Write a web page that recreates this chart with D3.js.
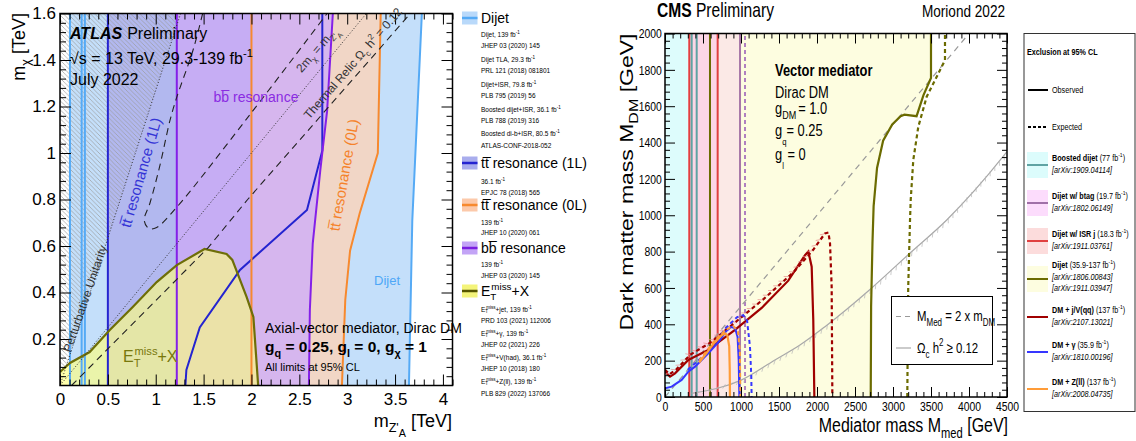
<!DOCTYPE html>
<html>
<head>
<meta charset="utf-8">
<title>Dark matter summary plots</title>
<script src="https://d3js.org/d3.v7.min.js"></script>
<style>
  body { margin: 0; background: #fff; }
  svg { display: block; font-family: 'Liberation Sans', Arial, sans-serif; }
</style>
</head>
<body>
<svg id="chart" width="1136" height="441"></svg>
<script>
// ---------------- ATLAS panel data (TeV) ----------------
var atlasXTicks = [0, 0.5, 1, 1.5, 2, 2.5, 3, 3.5, 4];
var atlasYTicks = [0.2, 0.4, 0.6, 0.8, 1, 1.2, 1.4, 1.6];
var atlasDijetLeft = 0.104;
var atlasDijetLines = [0.104, 0.226, 0.26];
var atlasDijetEdge = [[3.645, 0], [3.68, 0.71], [3.78, 1.6]];
var atlasTt1LLeft = 0.5;
var atlasTt1LEdge = [[1.31, 0], [1.32, 0.067], [1.46, 0.25], [1.88, 0.497], [2.58, 0.755], [2.74, 1.01], [2.74, 1.6]];
var atlasTt0LLeft = 2.0;
var atlasTt0LEdge = [[2.945, 0], [2.98, 0.368], [3.03, 0.58], [3.13, 0.74], [3.32, 1.0], [3.35, 1.6]];
var atlasBbLeft = 1.22;
var atlasBbEdge = [[2.6, 0], [2.61, 0.325], [2.64, 0.61], [2.72, 0.93], [2.79, 1.18], [2.85, 1.6]];
var atlasMetEdge = [[0, 0.058], [0.104, 0.097], [0.31, 0.144], [0.52, 0.239], [0.76, 0.338], [1.01, 0.445],
                    [1.22, 0.518], [1.51, 0.587], [1.74, 0.566], [1.80, 0.54], [1.95, 0.38], [2.02, 0.295], [2.07, 0]];
var atlasRelicLow = [[0.12, 0], [0.21, 0.037], [1.55, 0.594], [1.96, 0.80], [3.66, 1.6]];
var atlasRelicHigh = [[1.49, 1.6], [1.39, 1.443], [1.22, 1.24], [1.15, 1.142], [1.04, 0.94], [0.94, 0.785],
                      [0.88, 0.71], [0.93, 0.675], [1.01, 0.68], [1.22, 0.767], [1.98, 1.163], [2.79, 1.6]];
var atlasUnitarity = [[0, 0], [1.26, 1.6]];
var atlasKinematic = [[0, 0], [3.2, 1.6]];

// ---------------- CMS panel data (GeV) ----------------
var cmsXTicks = [0, 500, 1000, 1500, 2000, 2500, 3000, 3500, 4000, 4500];
var cmsYTicks = [0, 200, 400, 600, 800, 1000, 1200, 1400, 1600, 1800, 2000];
var cmsBoosted = [0, 300];
var cmsIsr = [300, 693];
var cmsBtag = [330, 987];
var cmsDijetLeft = 592;
var cmsVLines = [
  {x: 320, c: "#e04040"}, {x: 351, c: "#5fa3a3"}, {x: 417, c: "#5fa3a3"},
  {x: 592, c: "#6b6b00"}, {x: 693, c: "#e04040"}, {x: 987, c: "#a878a8"},
  {x: 1053, c: "#b080c0", dash: "4,3"}
];
var cmsDijetObs = [[2707, 0], [2712, 500], [2730, 850], [2745, 1050], [2790, 1260], [2870, 1410], [2990, 1500],
                   [3100, 1545], [3150, 1553], [3310, 1545], [3400, 1660], [3500, 1755], [3500, 2000]];
var cmsDijetExp = [[3188, 0], [3200, 600], [3224, 974], [3233, 1084], [3267, 1304], [3333, 1487], [3443, 1652],
                   [3575, 1762], [3684, 1854], [3684, 2000]];
var cmsJvObs = [[0, 139], [66, 112], [132, 130], [307, 204], [570, 259], [921, 369], [1272, 490], [1622, 640],
                [1842, 780], [1886, 800], [1930, 717], [1951, 424], [1965, 0]];
var cmsJvExp = [[0, 150], [60, 125], [150, 152], [330, 232], [600, 300], [921, 410], [1300, 540], [1700, 690],
                [1950, 810], [2105, 900], [2150, 905], [2171, 847], [2193, 607], [2202, 0]];
var cmsGamObs = [[0, 48], [88, 57], [219, 94], [307, 139], [395, 167], [570, 240], [700, 300], [800, 360],
                 [870, 385], [921, 380], [955, 330], [970, 200], [978, 0]];
var cmsGamExp = [[300, 150], [570, 250], [800, 380], [950, 440], [1030, 450], [1080, 420], [1118, 277], [1135, 120], [1140, 0]];
var cmsZllObs = [[450, 190], [560, 250], [650, 300], [746, 340], [789, 350], [820, 340], [845, 280], [852, 150], [855, 0]];
var cmsZllExp = [[450, 200], [650, 310], [800, 370], [900, 390], [960, 360], [985, 250], [992, 0]];
var cmsRelic = [[350, 20], [1009, 94], [1447, 204], [1776, 286], [2105, 387], [2720, 600], [3224, 792],
                [3707, 974], [4447, 1322], [4500, 1350]];
var cmsKinematic = [[0, 0], [4000, 2000]];

var svg = d3.select("#chart");

// text with sub/superscripts: parts = [text, "sub"|"sup"|"sub2"|"", "b"|"i"|"bi", dx]
function label(parent, x, y, parts, o) {
  o = o || {};
  var tr = "translate(" + x + "," + y + ")";
  if (o.rot) tr += " rotate(" + o.rot + ")";
  if (o.sx || o.sy) tr += " scale(" + (o.sx || 1) + "," + (o.sy || 1) + ")";
  var size = o.size || 12;
  var t = parent.append("g").attr("transform", tr).append("text")
    .attr("font-size", size).attr("fill", o.color || "#000")
    .attr("text-anchor", o.anchor || "start");
  if (o.weight) t.attr("font-weight", o.weight);
  if (typeof parts === "string") parts = [[parts]];
  var base = 0;
  parts.forEach(function(p) {
    var v = p[1] || "", st = p[2] || "";
    var off = 0, fs = size;
    if (v === "sub") { off = 0.3 * size; fs = 0.7 * size; }
    if (v === "sub2") { off = 0.55 * size; fs = 0.6 * size; }
    if (v === "sup") { off = -0.45 * size; fs = 0.7 * size; }
    var sp = t.append("tspan").text(p[0]).attr("dy", off - base).attr("font-size", fs);
    if (p[3]) sp.attr("dx", p[3]);
    if (st.indexOf("b") >= 0) sp.attr("font-weight", "bold");
    if (st.indexOf("i") >= 0) sp.attr("font-style", "italic");
    base = off;
  });
  return t;
}

function area(g, pts, x, y, fill, op) {
  g.append("path")
    .attr("d", d3.line().x(function(d) { return x(d[0]); }).y(function(d) { return y(d[1]); })(pts) + "Z")
    .attr("fill", fill).attr("fill-opacity", op == null ? 1 : op);
}
function curve(g, pts, x, y, color, w, dash, c) {
  g.append("path")
    .attr("d", d3.line().curve(c || d3.curveLinear).x(function(d) { return x(d[0]); }).y(function(d) { return y(d[1]); })(pts))
    .attr("fill", "none").attr("stroke", color).attr("stroke-width", w)
    .attr("stroke-dasharray", dash || null);
}
// short hatch strokes along a polyline (excluded side marker)
function hatchAlong(g, pts, x, y, color, step, len, ang) {
  var px = pts.map(function(d) { return [x(d[0]), y(d[1])]; });
  var carry = 0;
  for (var i = 1; i < px.length; i++) {
    var dx = px[i][0] - px[i - 1][0], dy = px[i][1] - px[i - 1][1];
    var L = Math.sqrt(dx * dx + dy * dy); if (L === 0) continue;
    var ux = dx / L, uy = dy / L;
    var ca = Math.cos(ang), sa = Math.sin(ang);
    var hx = ux * ca - uy * sa, hy = ux * sa + uy * ca;
    for (var s = step - carry; s <= L; s += step) {
      var cx = px[i - 1][0] + ux * s, cy = px[i - 1][1] + uy * s;
      g.append("line").attr("x1", cx).attr("y1", cy).attr("x2", cx + hx * len).attr("y2", cy + hy * len)
        .attr("stroke", color).attr("stroke-width", 0.7);
    }
    carry = (carry + L) % step;
  }
}
function minors(lo, hi, step, skip) {
  var out = [];
  for (var v = lo; v <= hi + 1e-9; v += step) {
    var r = Math.round(v / skip);
    if (Math.abs(v - r * skip) > 1e-6) out.push(+v.toFixed(4));
  }
  return out;
}
function axes(g, x, y, o) {
  var x0 = x.range()[0], x1 = x.range()[1], y0 = y.range()[0], y1 = y.range()[1];
  var sets = [[o.xMajor, o.major, true], [o.xMinor, o.minor, false]];
  sets.forEach(function(s) {
    var b = g.append("g").attr("transform", "translate(0," + y0 + ")")
      .call(d3.axisBottom(x).tickValues(s[0]).tickSizeInner(-s[1]).tickSizeOuter(0).tickPadding(o.padX)
        .tickFormat(s[2] ? function(d) { return String(d); } : ""));
    g.append("g").attr("transform", "translate(0," + y1 + ")")
      .call(d3.axisTop(x).tickValues(s[0]).tickSizeInner(-s[1]).tickSizeOuter(0).tickFormat(""));
    b.selectAll("text").attr("font-size", o.font).attr("fill", "#000").attr("font-family", null);
    if (o.sx) b.selectAll("text").attr("transform", "scale(" + o.sx + ",1)");
  });
  var ysets = [[o.yMajor, o.major, true], [o.yMinor, o.minor, false]];
  ysets.forEach(function(s) {
    var l = g.append("g").attr("transform", "translate(" + x0 + ",0)")
      .call(d3.axisLeft(y).tickValues(s[0]).tickSizeInner(-s[1]).tickSizeOuter(0).tickPadding(o.padY)
        .tickFormat(s[2] ? function(d) { return String(d); } : ""));
    g.append("g").attr("transform", "translate(" + x1 + ",0)")
      .call(d3.axisRight(y).tickValues(s[0]).tickSizeInner(-s[1]).tickSizeOuter(0).tickFormat(""));
    l.selectAll("text").attr("font-size", o.font).attr("fill", "#000").attr("font-family", null);
    if (o.sx) l.selectAll("text").attr("transform", "scale(" + o.sx + ",1)");
  });
  g.selectAll(".domain").remove();
  g.selectAll(".tick line").attr("stroke", "#000").attr("stroke-width", 1);
  g.append("rect").attr("x", x0).attr("y", y1).attr("width", x1 - x0).attr("height", y0 - y1)
    .attr("fill", "none").attr("stroke", "#000").attr("stroke-width", 1.5);
}

var defs = svg.append("defs");
var pat = defs.append("pattern").attr("id", "hatch").attr("patternUnits", "userSpaceOnUse")
  .attr("width", 4.5).attr("height", 4.5);
pat.append("path").attr("d", "M-1,3.5 l2,2 M0,0 l4.5,4.5 M3.5,-1 l2,2")
  .attr("stroke", "#9a9a9a").attr("stroke-width", 0.7);

// ================= ATLAS =================
var xA = d3.scaleLinear().domain([0, 4.1]).range([60, 452.5]);
var yA = d3.scaleLinear().domain([0, 1.6]).range([385.5, 13.5]);
defs.append("clipPath").attr("id", "clipA").append("rect")
  .attr("x", 60).attr("y", 13.5).attr("width", 392.5).attr("height", 372);
var gA = svg.append("g");
var pA = gA.append("g").attr("clip-path", "url(#clipA)");

function bandA(left, edge) { return [[left, 0]].concat(edge).concat([[left, 1.6]]); }
area(pA, bandA(atlasDijetLeft, atlasDijetEdge), xA, yA, "#c4dffa");
area(pA, bandA(atlasTt1LLeft, atlasTt1LEdge), xA, yA, "#b2b8ef");
area(pA, bandA(atlasTt0LLeft, atlasTt0LEdge), xA, yA, "#f1d6c6");
area(pA, bandA(atlasBbLeft, atlasBbEdge), xA, yA, "#c6adf4");
area(pA, bandA(atlasTt0LLeft, atlasBbEdge), xA, yA, "#d6b6ee");
area(pA, [[0, 1.6]].concat(atlasUnitarity.slice().reverse()), xA, yA, "url(#hatch)");
area(pA, [[0, 0]].concat(atlasMetEdge), xA, yA, "#ffff80", 0.65);

atlasDijetLines.forEach(function(v) { curve(pA, [[v, 0], [v, 1.6]], xA, yA, "#55aaf5", 2); });
curve(pA, atlasDijetEdge, xA, yA, "#55aaf5", 2);
curve(pA, [[atlasTt1LLeft, 0], [atlasTt1LLeft, 1.6]], xA, yA, "#2424d0", 2);
curve(pA, atlasTt1LEdge, xA, yA, "#2424d0", 2);
curve(pA, [[atlasBbLeft, 0], [atlasBbLeft, 1.6]], xA, yA, "#8420e8", 2);
curve(pA, atlasBbEdge, xA, yA, "#8420e8", 2);
curve(pA, [[atlasTt0LLeft, 0], [atlasTt0LLeft, 1.6]], xA, yA, "#f7892e", 2);
curve(pA, atlasTt0LEdge, xA, yA, "#f7892e", 2);
curve(pA, atlasMetEdge, xA, yA, "#6e6e08", 2.2);
curve(pA, atlasUnitarity, xA, yA, "#333", 1, "1,2");
curve(pA, atlasKinematic, xA, yA, "#333", 1, "1,2");
curve(pA, atlasRelicLow, xA, yA, "#222", 1.1, "7,5");
curve(pA, atlasRelicHigh, xA, yA, "#222", 1.1, "7,5", d3.curveCatmullRom);

axes(gA, xA, yA, {
  xMajor: atlasXTicks, xMinor: minors(0, 4.1, 0.1, 0.5),
  yMajor: atlasYTicks, yMinor: minors(0, 1.6, 0.04, 0.2),
  major: 11, minor: 6, padX: 7, padY: 4, font: 17
});

label(gA, 25, 13, [["m"], ["\u03c7", "sub"], [" [TeV]"]], {rot: -90, size: 18, anchor: "end"});
label(gA, 452, 427, [["m"], ["Z'", "sub"], ["A", "sub2"], [" [TeV]", "", "", 0]], {size: 18, anchor: "end"});

label(gA, 70, 39, [["ATLAS", "", "bi"], ["Preliminary", "", "", 5]], {size: 16});
label(gA, 70, 64, [["\u221as = 13 TeV, 29.3-139 fb"], ["-1", "sup"]], {size: 16});
label(gA, 70, 85, "July 2022", {size: 16});
label(gA, 256, 102, [["b"], ["b\u0305"], [" resonance"]], {size: 14, color: "#8a2be2", anchor: "middle"});
label(gA, 146, 174, [["tt\u0305 resonance (1L)"]], {size: 15, color: "#3434d6", anchor: "middle", rot: -74});
label(gA, 349, 176, [["tt\u0305 resonance (0L)"]], {size: 15, color: "#f5822a", anchor: "middle", rot: -80});
label(gA, 387, 285, "Dijet", {size: 13, color: "#4ea7f7", anchor: "middle"});
label(gA, 123, 362, [["E"], ["T", "sub"], ["miss", "sup", "", -6], ["+X"]], {size: 16, color: "#77770c"});
label(gA, 89, 300, "Perturbative Unitarity", {size: 12, color: "#333", anchor: "middle", rot: -71});
label(gA, 320, 52, [["2m"], ["\u03c7", "sub"], [" = m"], ["Z'", "sub"], ["A", "sub2"]], {size: 12, color: "#333", anchor: "middle", rot: -49});
label(gA, 356, 66, [["Thermal Relic \u03a9"], ["c", "sub"], [" h"], ["2", "sup"], [" = 0.12"]], {size: 12, color: "#333", anchor: "middle", rot: -49});
label(gA, 265, 333, "Axial-vector mediator, Dirac DM", {size: 14});
label(gA, 265, 352, [["g"], ["q", "sub"], [" = 0.25, g"], ["l", "sub"], [" = 0, g"], ["\u03c7", "sub"], [" = 1"]], {size: 15.5, weight: "bold"});
label(gA, 265, 371, "All limits at 95% CL", {size: 11});

// ATLAS legend
var atlasLegend = [
  {name: [["Dijet"]], y: 18, fill: "#b9d9fa", line: "#55aaf5",
   subs: [[["Dijet, 139 fb"], ["-1", "sup"]], "JHEP 03 (2020) 145", [["Dijet TLA, 29.3 fb"], ["-1", "sup"]], "PRL 121 (2018) 081801",
          [["Dijet+ISR, 79.8 fb"], ["-1", "sup"]], "PLB 795 (2019) 56", [["Boosted dijet+ISR, 36.1 fb"], ["-1", "sup"]],
          "PLB 788 (2019) 316", [["Boosted di-b+ISR, 80.5 fb"], ["-1", "sup"]], "ATLAS-CONF-2018-052"],
   subY: [36.5, 47.5, 61.5, 72.5, 86.5, 97.5, 111.5, 122.5, 135.5, 147.5]},
  {name: [["tt\u0305 resonance (1L)"]], y: 163, fill: "#a9aded", line: "#2424d0",
   subs: [[["36.1 fb"], ["-1", "sup"]], "EPJC 78 (2018) 565"], subY: [183.5, 194.5]},
  {name: [["tt\u0305 resonance (0L)"]], y: 205, fill: "#fcc9aa", line: "#f7892e",
   subs: [[["139 fb"], ["-1", "sup"]], "JHEP 10 (2020) 061"], subY: [224.5, 234.5]},
  {name: [["b"], ["b\u0305"], [" resonance"]], y: 248, fill: "#c3a4f6", line: "#7a1ee0",
   subs: [[["139 fb"], ["-1", "sup"]], "JHEP 03 (2020) 145"], subY: [266.5, 277.5]},
  {name: [["E"], ["T", "sub"], ["miss", "sup", "", -5], ["+X"]], y: 291, fill: "#f4f47a", line: "#555500",
   subs: [[["E"], ["T", "sub"], ["miss", "sup", "", -2], ["+jet, 139 fb"], ["-1", "sup"]], "PRD 103 (2021) 112006",
          [["E"], ["T", "sub"], ["miss", "sup", "", -2], ["+\u03b3, 139 fb"], ["-1", "sup"]], "JHEP 02 (2021) 226",
          [["E"], ["T", "sub"], ["miss", "sup", "", -2], ["+V(had), 36.1 fb"], ["-1", "sup"]], "JHEP 10 (2018) 180",
          [["E"], ["T", "sub"], ["miss", "sup", "", -2], ["+Z(ll), 139 fb"], ["-1", "sup"]], "PLB 829 (2022) 137066"],
   subY: [311.5, 322.5, 335.5, 346.5, 359.5, 370.5, 383.5, 395.5]}
];
atlasLegend.forEach(function(e) {
  gA.append("rect").attr("x", 462).attr("y", e.y - 6.5).attr("width", 15.5).attr("height", 13).attr("fill", e.fill);
  gA.append("line").attr("x1", 462).attr("x2", 477.5).attr("y1", e.y).attr("y2", e.y)
    .attr("stroke", e.line).attr("stroke-width", 2.5);
  label(gA, 481, e.y + 5, e.name, {size: 14});
  e.subs.forEach(function(s, i) { label(gA, 481, e.subY[i], s, {size: 6.5}); });
});

// ================= CMS =================
var xC = d3.scaleLinear().domain([0, 4500]).range([665, 1007]);
var yC = d3.scaleLinear().domain([0, 2000]).range([397, 33.5]);
defs.append("clipPath").attr("id", "clipC").append("rect")
  .attr("x", 665).attr("y", 33.5).attr("width", 342).attr("height", 363.5);
var gC = svg.append("g");
var pC = gC.append("g").attr("clip-path", "url(#clipC)");

area(pC, [[cmsDijetLeft, 0]].concat(cmsDijetObs).concat([[cmsDijetLeft, 2000]]), xC, yC, "#fdfde0");
area(pC, [[cmsBtag[0], 0], [cmsBtag[1], 0], [cmsBtag[1], 2000], [cmsBtag[0], 2000]], xC, yC, "#f7c4f0", 0.35);
area(pC, [[cmsIsr[0], 0], [cmsIsr[1], 0], [cmsIsr[1], 2000], [cmsIsr[0], 2000]], xC, yC, "#fcd6e6");
area(pC, [[cmsBoosted[0], 0], [cmsBoosted[1], 0], [cmsBoosted[1], 2000], [cmsBoosted[0], 2000]], xC, yC, "#ddfcfc");

cmsVLines.forEach(function(l) { curve(pC, [[l.x, 0], [l.x, 2000]], xC, yC, l.c, 2, l.dash); });
curve(pC, cmsKinematic, xC, yC, "#999", 1.2, "6,5");
curve(pC, cmsRelic, xC, yC, "#a8a8a8", 1.2, null, d3.curveMonotoneX);
hatchAlong(pC, cmsRelic, xC, yC, "#b8b8b8", 7, 5, 2.4);
curve(pC, cmsDijetObs, xC, yC, "#6b6b00", 2.2, null);
curve(pC, cmsDijetExp, xC, yC, "#6b6b00", 2.2, "4,3");
curve(pC, cmsJvExp, xC, yC, "#a00000", 2.2, "4,3");
curve(pC, cmsJvObs, xC, yC, "#a00000", 2.2);
hatchAlong(pC, cmsJvExp.slice(0, 10), xC, yC, "#e88a8a", 7, 5, -2.4);
curve(pC, cmsGamExp, xC, yC, "#3636ff", 2, "4,3");
curve(pC, cmsGamObs, xC, yC, "#3636ff", 2);
curve(pC, cmsZllExp, xC, yC, "#ff9c38", 2, "4,3");
curve(pC, cmsZllObs, xC, yC, "#ff9c38", 2.2);

axes(gC, xC, yC, {
  xMajor: cmsXTicks, xMinor: minors(0, 4500, 100, 500),
  yMajor: cmsYTicks, yMinor: minors(0, 2000, 40, 200),
  major: 10, minor: 5, padX: 5, padY: 4, font: 13, sx: 0.8
});

label(gC, 657, 17, [["CMS", "", "b"], [" Preliminary"]], {size: 20, sx: 0.78});
label(gC, 1005, 17, "Moriond 2022", {size: 17, sx: 0.8, anchor: "end"});
label(gC, 633, 33.5, [["Dark matter mass M"], ["DM", "sub"], [" [GeV]"]], {size: 23, rot: -90, sy: 0.78, anchor: "end"});
label(gC, 1008, 432, [["Mediator mass M"], ["med", "sub"], [" [GeV]"]], {size: 21, sx: 0.76, anchor: "end"});
label(gC, 775, 76, "Vector mediator", {size: 17, sx: 0.76, weight: "bold"});
label(gC, 775, 98, "Dirac DM", {size: 17, sx: 0.76});
label(gC, 775, 114, [["g"], ["DM", "sub"], [" = 1.0", "", "", -2]], {size: 16.5, sx: 0.78});
label(gC, 775, 136, [["g"], ["q", "sub2"], ["= 0.25"]], {size: 16.5, sx: 0.78});
label(gC, 775, 160, [["g"], ["l", "sub2"], [" = 0"]], {size: 16.5, sx: 0.78});

// inner grey legend
gC.append("rect").attr("x", 891.5).attr("y", 296.5).attr("width", 101).attr("height", 68)
  .attr("fill", "#fff").attr("stroke", "#000").attr("stroke-width", 1);
gC.append("line").attr("x1", 896).attr("x2", 911).attr("y1", 316.5).attr("y2", 316.5)
  .attr("stroke", "#999").attr("stroke-width", 1.2).attr("stroke-dasharray", "5,4");
gC.append("line").attr("x1", 896).attr("x2", 911).attr("y1", 348).attr("y2", 348)
  .attr("stroke", "#a8a8a8").attr("stroke-width", 1.2);
label(gC, 917, 321, [["M"], ["Med", "sub"], [" = 2 x m"], ["DM", "sub"]], {size: 15, sx: 0.76});
label(gC, 917, 353, [["\u03a9"], ["c", "sub"], [" h"], ["2", "sup"], [" \u2265 0.12"]], {size: 15, sx: 0.76});

// right legend
gC.append("rect").attr("x", 1024).attr("y", 33.5).attr("width", 111).attr("height", 378)
  .attr("fill", "#fff").attr("stroke", "#333").attr("stroke-width", 1);
label(gC, 1027, 55, "Exclusion at 95% CL", {size: 8.5, sx: 0.85, weight: "bold"});
gC.append("line").attr("x1", 1028).attr("x2", 1048).attr("y1", 90).attr("y2", 90).attr("stroke", "#000").attr("stroke-width", 2);
label(gC, 1052, 93, "Observed", {size: 8.5, sx: 0.85});
gC.append("line").attr("x1", 1028).attr("x2", 1048).attr("y1", 127).attr("y2", 127).attr("stroke", "#000")
  .attr("stroke-width", 2).attr("stroke-dasharray", "3,2");
label(gC, 1052, 130, "Expected", {size: 8.5, sx: 0.85});

var cmsLegend = [
  {y: 165, fill: "#dcfcfc", line: "#5fa3a3", rows: [[["Boosted dijet", "", "b"], [" (77 fb"], ["-1", "sup"], [")"]], [["[arXiv:1909.04114]", "", "i"]]], ry: [161, 173]},
  {y: 203, fill: "#fcdcfc", line: "#a070a8", rows: [[["Dijet w/ btag", "", "b"], [" (19.7 fb"], ["-1", "sup"], [")"]], [["[arXiv:1802.06149]", "", "i"]]], ry: [199, 211]},
  {y: 241, fill: "#fcdcdc", line: "#e04040", rows: [[["Dijet w/ ISR j", "", "b"], [" (18.3 fb"], ["-1", "sup"], [")"]], [["[arXiv:1911.03761]", "", "i"]]], ry: [237, 249]},
  {y: 279, fill: "#fdfde0", line: "#6b6b00", rows: [[["Dijet", "", "b"], [" (35.9-137 fb"], ["-1", "sup"], [")"]], [["[arXiv:1806.00843]", "", "i"]], [["[arXiv:1911.03947]", "", "i"]]], ry: [268, 279.5, 291]},
  {y: 317, line: "#a00000", rows: [[["DM + j/V(qq)", "", "b"], [" (137 fb"], ["-1", "sup"], [")"]], [["[arXiv:2107.13021]", "", "i"]]], ry: [313, 325]},
  {y: 352, line: "#3636ff", rows: [[["DM + \u03b3", "", "b"], [" (35.9 fb"], ["-1", "sup"], [")"]], [["[arXiv:1810.00196]", "", "i"]]], ry: [348, 360]},
  {y: 389, line: "#ff9c38", rows: [[["DM + Z(ll)", "", "b"], [" (137 fb"], ["-1", "sup"], [")"]], [["[arXiv:2008.04735]", "", "i"]]], ry: [385, 397]}
];
cmsLegend.forEach(function(e) {
  if (e.fill) gC.append("rect").attr("x", 1027).attr("y", e.y - 13).attr("width", 21).attr("height", 26).attr("fill", e.fill);
  gC.append("line").attr("x1", 1027).attr("x2", 1048).attr("y1", e.y).attr("y2", e.y).attr("stroke", e.line).attr("stroke-width", 2);
  e.rows.forEach(function(r, i) { label(gC, 1052, e.ry[i], r, {size: 8.5, sx: 0.85}); });
});
</script>
</body>
</html>
